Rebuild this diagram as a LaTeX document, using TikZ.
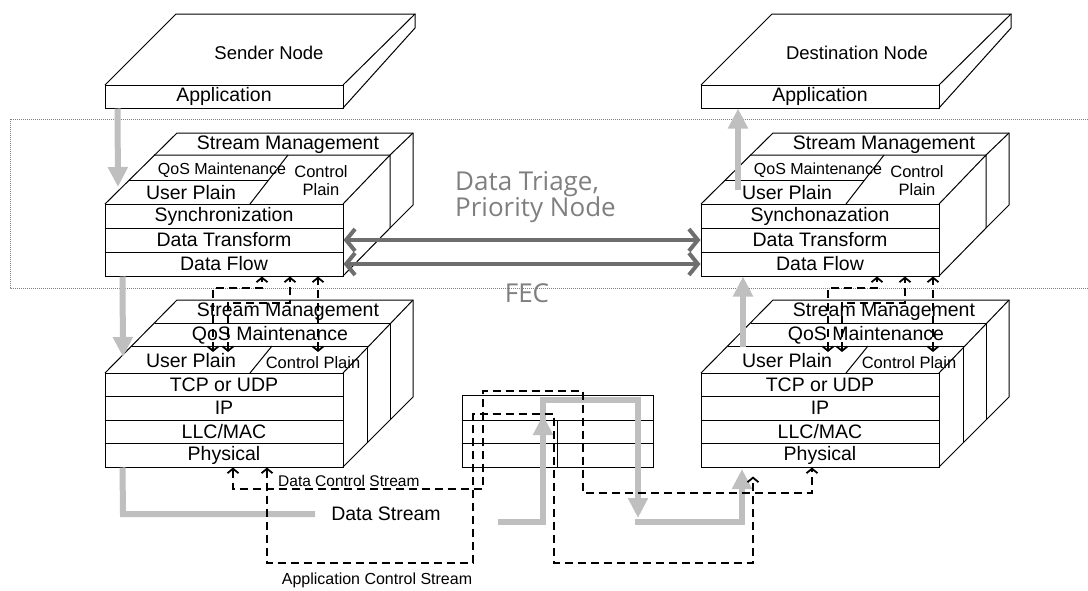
\documentclass[tikz,border=0pt]{standalone}
\usepackage{fontspec}
\setmainfont{Liberation Sans}
\newfontfamily\grayfont{Open Sans}
\usetikzlibrary{arrows.meta}
\definecolor{lgray}{HTML}{BFBFBF}
\definecolor{dgray}{HTML}{6E6E6E}
\definecolor{tgray}{HTML}{7F7F7F}
\tikzset{
 ln/.style={line width=1pt, draw=black},
 row/.style={draw=black, line width=1pt, inner sep=0pt, minimum width=238pt, font=\fontsize{19.5}{20}\selectfont},
 lbl/.style={inner sep=0pt, font=\fontsize{19.5}{20}\selectfont},
 sml/.style={inner sep=0pt, font=\fontsize{16}{18}\selectfont, align=center},
 ttl/.style={inner sep=0pt, font=\fontsize{18.5}{20}\selectfont},
 gline/.style={draw=lgray, line width=6pt},
 garrow/.style={gline, -{Triangle[length=20pt,width=19pt]}},
 darrow/.style={draw=dgray, line width=4pt, {Straight Barb[length=9pt,width=22pt]}-{Straight Barb[length=9pt,width=22pt]}},
 dsh/.style={draw=black, line width=1.8pt, dash pattern=on 8pt off 5pt, {Straight Barb[length=4.5pt,width=11pt]}-{Straight Barb[length=4.5pt,width=11pt]}},
 big/.style={inner sep=0pt, text=tgray, font=\grayfont\fontsize{26}{26}\selectfont, align=left},
}
\newcommand\TopSlab[5]{% prefix, dx, title x, title, app
 \begin{scope}[xshift=#2pt]
  \draw[ln] (105,85) -- (176,14) -- (415,14) -- (343,85);
  \draw[ln] (343,108) -- (415,28) -- (415,14);
  \node[row, minimum height=23pt] (#1app) at (224,96.5) {#5};
  \node[ttl] (#1title) at (#3,53) {#4};
 \end{scope}}
\newcommand\UpperStack[3]{% prefix, dx, sync text
 \begin{scope}[xshift=#2pt]
  \draw[ln] (105,204) -- (177,133) -- (413,133) -- (413,205) -- (390,228);
  \draw[ln] (154,155) -- (390,155) -- (413,133);
  \draw[ln] (343,204) -- (390,155) -- (390,228) -- (343,276);
  \draw[ln] (129,180) -- (268,180);
  \draw[ln] (250,204) -- (288,155);
  \node[row, minimum height=24pt] (#1sync) at (224,216) {#3};
  \node[row, minimum height=24pt] (#1dt) at (224,240) {Data Transform};
  \node[row, minimum height=24pt] (#1df) at (224,264) {Data Flow};
  \node[lbl] (#1sm) at (288,145) {Stream Management};
  \node[sml] (#1qos) at (222,170) {QoS Maintenance};
  \node[sml, font=\fontsize{16.5}{18}\selectfont] (#1cp) at (321,181) {Control\\Plain};
  \node[lbl] (#1up) at (191,193) {User Plain};
 \end{scope}}
\newcommand\LowerStack[2]{% prefix, dx
 \begin{scope}[xshift=#2pt]
  \draw[ln] (105,373) -- (177,300) -- (413,300) -- (413,397) -- (343,467);
  \draw[ln] (343,373) -- (413,300);
  \draw[ln] (132,346) -- (367,346) -- (367,443);
  \draw[ln] (155,323) -- (390,323) -- (390,420);
  \draw[ln] (250,373) -- (272,346);
  \node[row, minimum height=23.5pt] (#1tcp) at (224,384.75) {TCP or UDP};
  \node[row, minimum height=23.5pt] (#1ip) at (224,408.25) {IP};
  \node[row, minimum height=23.5pt] (#1llc) at (224,431.75) {LLC/MAC};
  \node[row, minimum height=23.5pt] (#1phy) at (224,455.25) {Physical};
  \node[lbl] (#1sm) at (288,312) {Stream Management};
  \node[lbl] (#1qos) at (270,335) {QoS Maintenance};
  \node[lbl] (#1up) at (191,361) {User Plain};
  \node[sml, font=\fontsize{16.5}{18}\selectfont] (#1cp) at (313,363) {Control Plain};
 \end{scope}}
\begin{document}
\begin{tikzpicture}[x=1pt,y=-1pt]
\useasboundingbox (0,0) rectangle (1088,590);
% dotted frame
\draw[draw=gray, line width=0.8pt, dash pattern=on 1pt off 1pt] (1090,119) -- (10,119) -- (10,288) -- (1090,288);
% slabs and stacks
\TopSlab{l}{0}{269}{Sender Node}{Application}
\TopSlab{r}{596}{261}{Destination Node}{Application}
\UpperStack{l}{0}{Synchronization}
\UpperStack{r}{596}{Synchonazation}
\LowerStack{l}{0}
\LowerStack{r}{596}
% middle box
\node[draw=black, line width=1pt, minimum width=191pt, minimum height=72pt, inner sep=0pt] (mid) at (557.5,431) {};
\draw[ln] (mid.west |- 0,420) -- (mid.east |- 0,420);
\draw[ln] (mid.west |- 0,443) -- (mid.east |- 0,443);
\draw[ln] (557,420) -- (mid.south -| 557,0);
% labels
\node[big, anchor=west] (triage) at (455,197.5) {Data Triage,\\Priority Node};
\node[big] (fec) at (527,293) {FEC};
% dark double arrows
\draw[darrow] (ldt.east) -- (rdt.west);
\draw[darrow] (ldf.east) -- (rdf.west);
% gray arrows
\draw[garrow] ([xshift=13pt]lapp.south west) -- (118,187);
\draw[garrow] ([xshift=18pt]ldf.south west) -- (123,357);
\draw[gline] ([xshift=18pt]lphy.south west) -- (123,514) -- (315,514);
\node[lbl] (dstream) at (386,514) {Data Stream};
\draw[garrow] (498,522) -- (543,522) -- (543,400) -- (638,400) -- (638,518);
\draw[garrow] (543,450) -- (543,415);
\draw[garrow] (635,522) -- (742,522) -- (742,469);
\draw[garrow] (743,347) -- (rdf.south -| 743,0);
\draw[garrow] (738,190) -- (rapp.south -| 738,0);
% dashed control links, left
\draw[dsh] (213,352) -- (213,288) -- (262,288) -- (ldf.south -| 262,0);
\draw[dsh] (228,352) -- (228,303) -- (290,303) -- (ldf.south -| 290,0);
\draw[dsh] (318,352) -- (ldf.south -| 318,0);
% dashed control links, right
\draw[dsh] (828,352) -- (828,288) -- (877,288) -- (rdf.south -| 877,0);
\draw[dsh] (842,352) -- (842,303) -- (905,303) -- (rdf.south -| 905,0);
\draw[dsh] (933,352) -- (rdf.south -| 933,0);
% data control stream
\draw[dsh] (lphy.south -| 233,0) -- (233,489) -- (483,489) -- (483,391) -- (583,391) -- (583,493) -- (812,493) -- (rphy.south -| 812,0);
\node[inner sep=0pt, anchor=west, font=\fontsize{15.5}{16}\selectfont] (dcs) at (278,481) {Data Control Stream};
% application control stream
\draw[dsh] (lphy.south -| 267,0) -- (267,563) -- (473,563) -- (473,414) -- (554,414) -- (554,563) -- (753,563) -- ([yshift=-9pt]rphy.south -| 753,0);
\node[inner sep=0pt, font=\fontsize{16}{16}\selectfont] (acs) at (377,580) {Application Control Stream};
\end{tikzpicture}
\end{document}
